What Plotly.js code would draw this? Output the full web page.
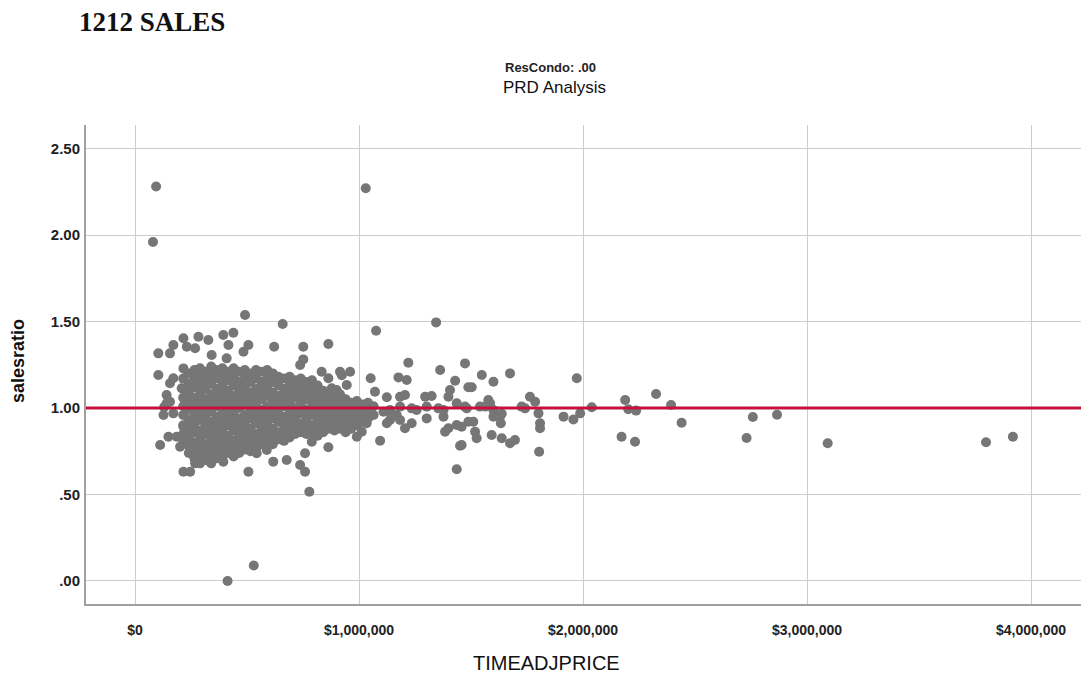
<!DOCTYPE html>
<html><head><meta charset="utf-8">
<script src="https://cdn.plot.ly/plotly-3.0.1.min.js"></script>
<style>html,body{margin:0;padding:0;background:#fff;}#chart{width:1081px;height:675px;}</style>
</head><body><div id="chart"></div>
<script>
const xTickVals = [0, 1000000, 2000000, 3000000, 4000000];
const xTickText = ['$0', '$1,000,000', '$2,000,000', '$3,000,000', '$4,000,000'];
const yTickVals = [0, 0.5, 1, 1.5, 2, 2.5];
const yTickText = ['.00', '.50', '1.00', '1.50', '2.00', '2.50'];
const refRatio = 1.0;

// dense cluster, read column by column: price ($M) and the ratios seen in that column
const clusterPrice = [0.215,0.24,0.265,0.29,0.315,0.34,0.365,0.39,0.415,0.44,0.465,0.49,0.515,0.54,0.565,0.59,0.615,0.64,0.665,0.69,0.715,0.74,0.765,0.79,0.815,0.84,0.865,0.89,0.915,0.94,0.965,0.99,1.015,1.04,1.065];
const clusterRatios = [
  [1.17,1.11,1.06,1.01,0.96,0.90,0.85,0.80],
  [1.20,1.14,1.09,1.04,0.99,0.93,0.88,0.83,0.78,0.74],
  [1.22,1.17,1.12,1.06,1.01,0.96,0.91,0.86,0.80,0.75,0.71],
  [1.23,1.18,1.13,1.08,1.03,0.98,0.93,0.87,0.82,0.77,0.72,0.68],
  [1.21,1.16,1.11,1.05,1.00,0.95,0.90,0.85,0.79,0.74,0.70],
  [1.24,1.19,1.14,1.08,1.03,0.98,0.92,0.87,0.82,0.77,0.72,0.68],
  [1.22,1.17,1.11,1.06,1.01,0.95,0.90,0.85,0.80,0.75,0.71],
  [1.23,1.18,1.13,1.08,1.03,0.97,0.92,0.87,0.82,0.77,0.72],
  [1.21,1.16,1.10,1.05,1.00,0.95,0.90,0.84,0.79,0.74],
  [1.23,1.18,1.13,1.07,1.02,0.97,0.92,0.87,0.81,0.76,0.72],
  [1.21,1.15,1.10,1.05,1.00,0.94,0.89,0.84,0.79,0.74],
  [1.22,1.17,1.12,1.07,1.02,0.96,0.91,0.86,0.81,0.76],
  [1.20,1.15,1.09,1.04,0.99,0.94,0.88,0.83,0.78,0.75],
  [1.22,1.17,1.11,1.06,1.01,0.96,0.91,0.85,0.80,0.76],
  [1.21,1.15,1.10,1.05,0.99,0.94,0.89,0.84,0.79],
  [1.22,1.17,1.12,1.07,1.01,0.96,0.91,0.86,0.81],
  [1.20,1.15,1.09,1.04,0.99,0.94,0.88,0.83,0.79],
  [1.18,1.13,1.07,1.02,0.97,0.92,0.86,0.82],
  [1.17,1.11,1.06,1.01,0.95,0.90,0.85,0.81],
  [1.18,1.13,1.08,1.03,0.97,0.92,0.87,0.83],
  [1.16,1.11,1.06,1.00,0.95,0.90,0.85],
  [1.17,1.12,1.07,1.02,0.97,0.91,0.86],
  [1.15,1.10,1.05,0.99,0.94,0.89,0.85],
  [1.16,1.11,1.06,1.01,0.96,0.90,0.86],
  [1.13,1.08,1.03,0.98,0.93,0.88,0.84],
  [1.10,1.05,1.00,0.95,0.90,0.86],
  [1.08,1.03,0.98,0.93,0.88],
  [1.06,1.01,0.96,0.91,0.87],
  [1.08,1.03,0.98,0.93,0.88],
  [1.05,1.00,0.95,0.90,0.86],
  [1.03,0.98,0.93,0.88],
  [1.04,1.00,0.95,0.90],
  [1.02,0.97,0.92],
  [1.03,0.99,0.94],
  [1.01,0.96]
];

// individual points: price ($M) and sales ratio
const spreadPrice = [
  0.094,0.080,1.030,0.104,0.156,0.171,0.216,0.231,0.283,0.268,
  0.327,0.394,0.439,0.417,0.342,0.409,0.216,0.104,0.156,0.171,
  0.208,0.141,0.156,0.127,0.171,0.216,0.149,0.112,0.186,0.201,
  0.216,0.246,0.268,0.506,0.491,0.659,0.506,0.484,0.621,0.751,
  0.863,0.751,0.737,0.833,0.863,0.915,0.960,0.945,0.900,0.878,
  0.617,0.677,0.759,0.789,0.863,0.737,0.759,0.778,0.335,0.394,
  0.543,0.588,0.130,0.141,0.923,1.076,1.344,1.052,1.071,1.124,
  1.176,1.213,1.220,1.362,1.473,1.429,1.406,1.399,1.488,1.183,
  1.205,1.295,1.324,1.138,1.183,1.235,1.257,1.302,1.354,1.377,
  1.436,1.473,1.138,1.183,1.205,1.235,1.302,1.377,1.399,1.384,
  1.436,1.458,1.488,1.094,1.451,1.436,1.109,1.146,1.168,1.124,
  0.990,1.012,1.034,1.049,1.548,1.600,1.674,1.503,1.972,1.577,
  1.585,1.481,1.540,1.563,1.600,1.615,1.629,1.600,1.726,1.741,
  1.763,1.786,1.801,1.808,1.808,1.804,1.913,1.957,1.510,1.518,
  1.525,1.592,1.637,1.674,1.696,1.458,1.633,1.637,1.987,2.039,
  2.188,2.202,2.237,2.172,2.232,2.326,2.393,2.440,2.730,2.758,
  2.866,3.092,3.799,3.919,0.413,0.530
];
const spreadRatio = [
  2.280,1.960,2.270,1.316,1.316,1.364,1.403,1.354,1.412,1.345,
  1.393,1.422,1.435,1.364,1.306,1.287,1.229,1.191,1.143,1.172,
  1.114,1.075,1.036,0.960,0.969,0.892,0.834,0.786,0.834,0.776,
  0.632,0.632,0.680,0.632,1.538,1.486,1.364,1.325,1.354,1.354,
  1.370,1.281,1.249,1.210,1.172,1.210,1.210,1.133,1.104,1.114,
  0.690,0.699,0.738,0.805,0.773,0.671,0.632,0.516,0.690,0.690,
  0.738,0.757,1.005,1.027,1.190,1.447,1.495,1.172,1.094,1.062,
  1.177,1.162,1.262,1.220,1.258,1.158,1.104,1.065,1.120,1.065,
  1.075,1.065,1.069,0.988,1.008,0.998,0.988,1.008,0.998,0.988,
  1.027,1.008,0.931,0.931,0.883,0.912,0.940,0.950,0.883,0.863,
  0.902,0.892,0.921,0.811,0.782,0.646,0.979,0.955,0.960,0.912,
  0.834,0.863,0.912,0.969,1.191,1.152,1.200,1.120,1.172,1.046,
  1.027,0.998,1.008,1.008,0.988,0.960,0.950,0.950,1.008,0.998,
  1.065,1.036,0.969,0.912,0.883,0.747,0.950,0.934,0.921,0.863,
  0.825,0.844,0.825,0.796,0.815,0.786,0.912,0.967,0.969,1.004,
  1.046,0.993,0.985,0.834,0.805,1.081,1.017,0.915,0.827,0.948,
  0.961,0.796,0.802,0.834,0.000,0.090
];

const xs = [], ys = [];
clusterPrice.forEach((p, i) => clusterRatios[i].forEach(r => { xs.push(p * 1e6); ys.push(r); }));
spreadPrice.forEach((p, i) => { xs.push(p * 1e6); ys.push(spreadRatio[i]); });

const trace = {
  type: 'scatter', mode: 'markers', x: xs, y: ys,
  marker: { size: 10, color: 'rgb(118,118,118)', line: { width: 0 } },
  hoverinfo: 'skip'
};

const L = 86, R = 1081, T = 125, B = 604;
const px = v => (v - L) / (R - L);
const py = v => (B - v) / (B - T);

const layout = {
  width: 1081, height: 675,
  margin: { l: L, r: 1081 - R, t: T, b: 675 - B, pad: 0 },
  paper_bgcolor: '#ffffff', plot_bgcolor: '#ffffff',
  showlegend: false,
  xaxis: {
    range: [-219000, 4223000], tickvals: xTickVals, ticktext: xTickText,
    showgrid: true, gridcolor: '#cccccc', gridwidth: 1, zeroline: false,
    showline: true, linecolor: '#a0a0a0', linewidth: 2,
    ticks: 'outside', ticklen: 12, tickcolor: 'rgba(0,0,0,0)',
    tickfont: { family: 'Liberation Sans, Arial, sans-serif', size: 14, color: '#222', weight: 'bold' }
  },
  yaxis: {
    range: [-0.133, 2.636], tickvals: yTickVals, ticktext: yTickText,
    showgrid: true, gridcolor: '#cccccc', gridwidth: 1, zeroline: false,
    showline: true, linecolor: '#a0a0a0', linewidth: 2,
    ticks: 'outside', ticklen: 1, tickcolor: 'rgba(0,0,0,0)',
    tickfont: { family: 'Liberation Sans, Arial, sans-serif', size: 15, color: '#222', weight: 'bold' }
  },
  shapes: [{
    type: 'line', xref: 'paper', x0: 0, x1: 1, yref: 'y', y0: refRatio, y1: refRatio,
    line: { color: 'rgb(196,18,60)', width: 3 }, layer: 'above'
  }],
  annotations: [
    { text: '<b>1212 SALES</b>', xref: 'paper', yref: 'paper', x: px(77), y: py(22), xanchor: 'left', yanchor: 'middle', showarrow: false,
      font: { family: 'Liberation Serif, Times New Roman, serif', size: 27, color: '#111' } },
    { text: '<b>ResCondo: .00</b>', xref: 'paper', yref: 'paper', x: px(550), y: py(67), xanchor: 'center', yanchor: 'middle', showarrow: false,
      font: { family: 'Liberation Sans, Arial, sans-serif', size: 13, color: '#222' } },
    { text: 'PRD Analysis', xref: 'paper', yref: 'paper', x: px(554), y: py(88), xanchor: 'center', yanchor: 'middle', showarrow: false,
      font: { family: 'Liberation Sans, Arial, sans-serif', size: 17, color: '#111' } },
    { text: '<b>salesratio</b>', xref: 'paper', yref: 'paper', x: px(18), y: py(361), xanchor: 'center', yanchor: 'middle', textangle: -90, showarrow: false,
      font: { family: 'Liberation Sans, Arial, sans-serif', size: 18, color: '#111' } },
    { text: 'TIMEADJPRICE', xref: 'paper', yref: 'paper', x: px(546), y: py(663), xanchor: 'center', yanchor: 'middle', showarrow: false,
      font: { family: 'Liberation Sans, Arial, sans-serif', size: 20, color: '#111' } }
  ]
};

Plotly.newPlot('chart', [trace], layout, { displayModeBar: false, staticPlot: true });
</script>
</body></html>
